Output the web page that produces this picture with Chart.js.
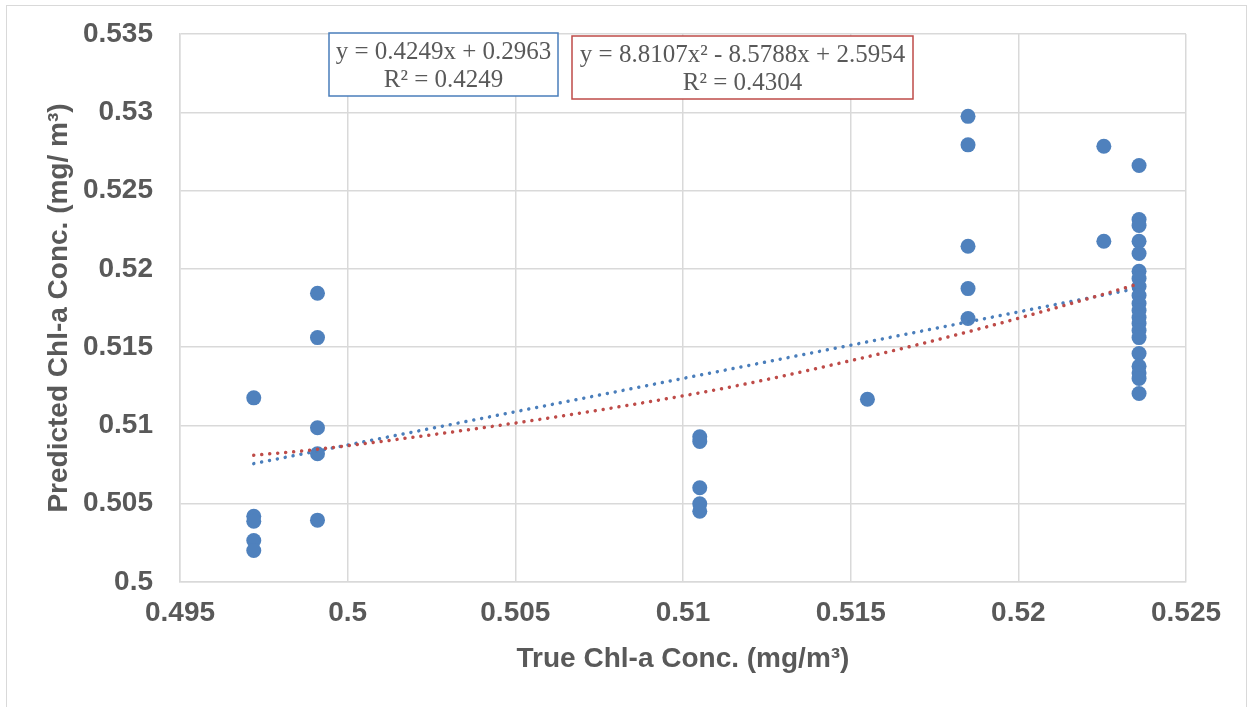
<!DOCTYPE html>
<html lang="en">
<head>
<meta charset="UTF-8" />
<title>Chl-a</title>
<script src="https://cdn.jsdelivr.net/npm/chart.js"></script>
<style>
  body { margin: 0; background: #fff; }
  #wrap { width: 1252px; height: 707px; }
</style>
</head>
<body>
<div id="wrap"><canvas id="myChart" width="1252" height="707"></canvas></div>
<script>
// true vs predicted Chl-a (mg/m3)
const trueChl = [
  0.4972, 0.4972, 0.4972, 0.4972, 0.4972,
  0.4991, 0.4991, 0.4991, 0.4991, 0.4991,
  0.5105, 0.5105, 0.5105, 0.5105, 0.5105,
  0.5155,
  0.5185, 0.5185, 0.5185, 0.5185, 0.5185,
  0.52255, 0.52255,
  0.5236, 0.5236, 0.5236, 0.5236, 0.5236, 0.5236, 0.5236, 0.5236, 0.5236, 0.5236,
  0.5236, 0.5236, 0.5236, 0.5236, 0.5236, 0.5236, 0.5236, 0.5236, 0.5236, 0.5236
];
const predChl = [
  0.51176, 0.5042, 0.50388, 0.50265, 0.50201,
  0.51844, 0.51561, 0.50985, 0.50819, 0.50395,
  0.50927, 0.50897, 0.50602, 0.50499, 0.50452,
  0.51167,
  0.52974, 0.52792, 0.52144, 0.51874, 0.51683,
  0.52783, 0.52176,
  0.5266, 0.52315, 0.52277, 0.52176, 0.52098, 0.51985, 0.51938, 0.51887, 0.5183, 0.51778,
  0.51734, 0.51689, 0.51651, 0.51606, 0.51561, 0.51459, 0.51378, 0.51335, 0.513, 0.51204
];

// trendline coefficients as printed on the chart
const linearCoef = [0.4249, 0.2963];
const polyCoef = [8.8107, -8.5788, 2.5954];
const linearLabel = ["y = 0.4249x + 0.2963", "R² = 0.4249"];
const polyLabel = ["y = 8.8107x² - 8.5788x + 2.5954", "R² = 0.4304"];

const xTickLabels = ["0.495", "0.5", "0.505", "0.51", "0.515", "0.52", "0.525"];
const yTickLabels = ["0.5", "0.505", "0.51", "0.515", "0.52", "0.525", "0.53", "0.535"];

const fitX = [...new Set(trueChl)].sort((a, b) => a - b);
const linearPts = fitX.map((x) => ({ x: x, y: linearCoef[0] * x + linearCoef[1] }));
const polyPts = fitX.map((x) => ({ x: x, y: polyCoef[0] * x * x + polyCoef[1] * x + polyCoef[2] }));

const gridColor = "#d9d9d9";
const textGray = "#595959";
const labelFont = { family: "'Liberation Sans', Arial", size: 28, weight: "bold" };

const frame = {
  id: "frame",
  beforeDraw(chart) {
    const { ctx } = chart;
    ctx.save();
    ctx.fillStyle = "#fff";
    ctx.fillRect(0, 0, chart.width, chart.height);
    ctx.strokeStyle = gridColor;
    ctx.lineWidth = 1;
    ctx.strokeRect(6.5, 5.5, 1240, 720);
    ctx.restore();
  },
};

function drawBox(ctx, x, y, w, h, color, lines) {
  ctx.fillStyle = "#fff";
  ctx.fillRect(x, y, w, h);
  ctx.strokeStyle = color;
  ctx.lineWidth = 1.5;
  ctx.strokeRect(x, y, w, h);
  ctx.fillStyle = textGray;
  ctx.font = "25px 'Liberation Serif'";
  ctx.textAlign = "center";
  ctx.textBaseline = "middle";
  ctx.fillText(lines[0], x + w / 2, y + 19);
  ctx.fillText(lines[1], x + w / 2, y + 47);
}

const eqBoxes = {
  id: "eqBoxes",
  afterDraw(chart) {
    const { ctx } = chart;
    ctx.save();
    drawBox(ctx, 329, 33, 229, 63, "#4a7ebb", linearLabel);
    drawBox(ctx, 572, 36, 341, 63, "#be4b48", polyLabel);
    ctx.restore();
  },
};

const ctx = document.getElementById("myChart");

new Chart(ctx, {
  type: "scatter",
  data: {
    datasets: [
      {
        label: "Predicted",
        data: trueChl.map((x, i) => ({ x: x, y: predChl[i] })),
        backgroundColor: "#4f81bd",
        borderColor: "#4f81bd",
        pointRadius: 7.5,
        pointBorderWidth: 0,
        order: 3,
      },
      {
        label: "Linear",
        data: linearPts,
        showLine: true,
        pointRadius: 0,
        borderColor: "#4a7ebb",
        borderWidth: 3.5,
        borderDash: [0.01, 8],
        borderCapStyle: "round",
        order: 2,
      },
      {
        label: "Poly",
        data: polyPts,
        showLine: true,
        pointRadius: 0,
        borderColor: "#be4b48",
        borderWidth: 3.5,
        borderDash: [0.01, 8],
        borderCapStyle: "round",
        cubicInterpolationMode: "monotone",
        order: 1,
      },
    ],
  },
  options: {
    responsive: false,
    animation: false,
    layout: { padding: { top: 34, right: 66, left: 0, bottom: 0 } },
    plugins: { legend: { display: false }, tooltip: { enabled: false } },
    scales: {
      x: {
        type: "linear",
        min: 0.495,
        max: 0.525,
        ticks: {
          stepSize: 0.005,
          padding: 14,
          color: textGray,
          font: labelFont,
          callback: (v, i) => xTickLabels[i],
        },
        grid: { color: gridColor, lineWidth: 1.5, drawTicks: false },
        border: { color: gridColor, width: 1.5 },
        title: {
          display: true,
          text: "True Chl-a Conc. (mg/m³)",
          color: textGray,
          font: labelFont,
          padding: { top: 0, bottom: 31 },
        },
        afterFit(scale) {
          scale.height = 125;
          scale.paddingLeft = 0;
          scale.paddingRight = 0;
        },
      },
      y: {
        min: 0.5,
        max: 0.535,
        ticks: {
          stepSize: 0.005,
          padding: 27,
          color: textGray,
          font: labelFont,
          callback: (v, i) => yTickLabels[i],
        },
        grid: { color: gridColor, lineWidth: 1.5, drawTicks: false },
        border: { color: gridColor, width: 1.5 },
        title: {
          display: true,
          text: "Predicted Chl-a Conc. (mg/ m³)",
          color: textGray,
          font: labelFont,
          padding: { top: 42, bottom: 0 },
        },
        afterFit(scale) {
          scale.width = 180;
          scale.paddingTop = 0;
          scale.paddingBottom = 0;
        },
      },
    },
  },
  plugins: [frame, eqBoxes],
});
</script>
</body>
</html>
